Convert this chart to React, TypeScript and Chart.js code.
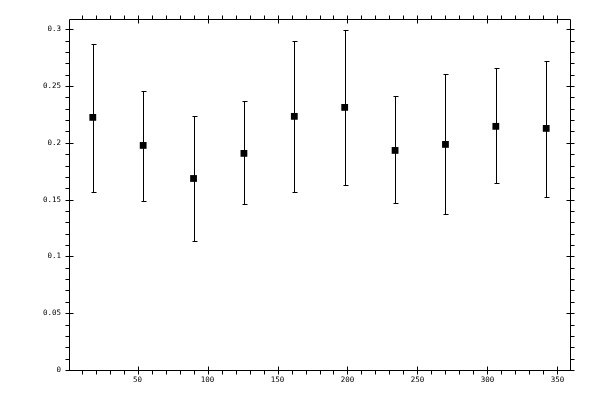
import { useEffect, useRef } from 'react';
import { Chart, registerables, Plugin } from 'chart.js';

Chart.register(...registerables);

// angle of each sample and the measured value with its error range
const angles = [18, 54, 90, 126, 162, 198, 234, 270, 306, 342];
const means = [0.2224, 0.1977, 0.1686, 0.1907, 0.2233, 0.2312, 0.1933, 0.1986, 0.2145, 0.2127];
const upper = [0.2874, 0.2453, 0.2233, 0.2365, 0.2894, 0.2991, 0.2409, 0.2606, 0.2656, 0.2718];
const lower = [0.1563, 0.1492, 0.1139, 0.1457, 0.1571, 0.1633, 0.1466, 0.1377, 0.1642, 0.1527];

const xTicks = [50, 100, 150, 200, 250, 300, 350];
const yTicks = [0, 0.05, 0.1, 0.15, 0.2, 0.25, 0.3];
const xMinorStep = 10;
const yMinorStep = 0.01;

const FONT = '"DejaVu Sans Mono", monospace';

const framePlugin: Plugin = {
  id: 'frame',
  beforeDatasetsDraw(chart) {
    const { ctx, scales } = chart;
    const x = scales.x;
    const y = scales.y;
    ctx.save();
    ctx.strokeStyle = '#000';
    ctx.lineWidth = 1;
    ctx.beginPath();
    for (let i = 0; i < angles.length; i++) {
      const px = Math.round(x.getPixelForValue(angles[i])) + 0.5;
      const top = Math.round(y.getPixelForValue(upper[i])) + 0.5;
      const bot = Math.round(y.getPixelForValue(lower[i])) + 0.5;
      ctx.moveTo(px, top);
      ctx.lineTo(px, bot);
      ctx.moveTo(px - 2, top);
      ctx.lineTo(px + 3, top);
      ctx.moveTo(px - 2, bot);
      ctx.lineTo(px + 3, bot);
    }
    ctx.stroke();
    ctx.restore();
  },
  afterDraw(chart) {
    const { ctx, chartArea, scales } = chart;
    const x = scales.x;
    const y = scales.y;
    const l = Math.round(chartArea.left) + 0.5;
    const r = Math.round(chartArea.right) + 0.5;
    const t = Math.round(chartArea.top) + 0.5;
    const b = Math.round(chartArea.bottom) + 0.5;
    ctx.save();
    ctx.strokeStyle = '#000';
    ctx.lineWidth = 1;
    ctx.beginPath();
    ctx.rect(l, t, r - l, b - t);

    // x ticks, bottom and top
    for (let v = xMinorStep; v <= (x.max as number); v += xMinorStep) {
      const px = Math.round(x.getPixelForValue(v)) + 0.5;
      const major = xTicks.includes(Math.round(v));
      ctx.moveTo(px, b - (major ? 4 : 0));
      ctx.lineTo(px, b + 4);
      ctx.moveTo(px, t + (major ? 4 : 0));
      ctx.lineTo(px, t - 4);
    }
    // y ticks, left and right
    for (let k = 0; k * yMinorStep <= (y.max as number); k++) {
      const v = k * yMinorStep;
      const py = Math.round(y.getPixelForValue(v)) + 0.5;
      const major = k % 5 === 0;
      ctx.moveTo(l + (major ? 4 : 0), py);
      ctx.lineTo(l - 4, py);
      ctx.moveTo(r - (major ? 4 : 0), py);
      ctx.lineTo(r + 4, py);
    }
    ctx.stroke();
    ctx.restore();
  },
};

export default function App() {
  const canvasRef = useRef<HTMLCanvasElement>(null);

  useEffect(() => {
    if (!canvasRef.current) return;
    const chart = new Chart(canvasRef.current, {
      type: 'scatter',
      data: {
        datasets: [
          {
            data: angles.map((a, i) => ({ x: a, y: means[i] })),
            pointStyle: 'rect',
            pointRadius: 4.8,
            pointBackgroundColor: '#000',
            pointBorderWidth: 0,
          },
        ],
      },
      options: {
        animation: false,
        responsive: false,
        devicePixelRatio: 1,
        layout: { padding: { top: 19, right: 30, left: 0, bottom: 0 } },
        plugins: { legend: { display: false }, tooltip: { enabled: false } },
        scales: {
          x: {
            type: 'linear',
            min: 1,
            max: 359,
            grid: { display: false, drawTicks: false },
            border: { display: false },
            afterBuildTicks: (s) => {
              s.ticks = xTicks.map((v) => ({ value: v }));
            },
            afterFit: (s) => {
              s.height = 30;
            },
            ticks: {
              padding: 6,
              color: '#000',
              font: { family: FONT, size: 7.5 },
              maxRotation: 0,
              callback: (v) => String(v),
            },
          },
          y: {
            type: 'linear',
            min: 0,
            max: 0.309,
            grid: { display: false, drawTicks: false },
            border: { display: false },
            afterBuildTicks: (s) => {
              s.ticks = yTicks.map((v) => ({ value: v }));
            },
            afterFit: (s) => {
              s.width = 69;
            },
            ticks: {
              padding: 8,
              color: '#000',
              font: { family: FONT, size: 7.5 },
              callback: (v) => String(v),
            },
          },
        },
      },
      plugins: [framePlugin],
    });
    return () => chart.destroy();
  }, []);

  return (
    <div style={{ position: 'absolute', left: 0, top: 0, width: 600, height: 400, background: '#fff' }}>
      <canvas ref={canvasRef} width={600} height={400} />
    </div>
  );
}
